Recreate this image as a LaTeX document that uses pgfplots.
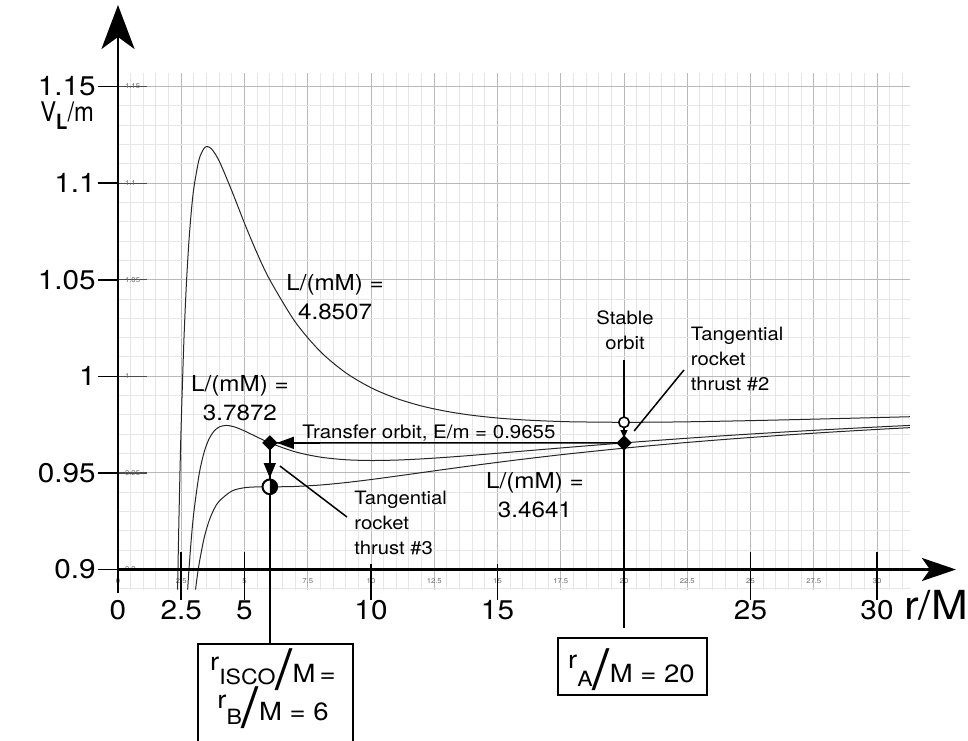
\documentclass[border=0pt]{standalone}
\usepackage{pgfplots}
\pgfplotsset{compat=1.18}
\usepackage{fontspec}
\setmainfont{TeX Gyre Heros}[FakeStretch=1.1]
\usetikzlibrary{arrows.meta}
\definecolor{minorgrid}{RGB}{230,230,230}
\definecolor{majorgrid}{RGB}{185,185,185}
\definecolor{tinytext}{RGB}{105,105,105}
\newcommand{\bigslash}{\raisebox{-3.5pt}{\fontsize{28pt}{28pt}\selectfont /}}
\begin{document}
\begin{tikzpicture}
\begin{axis}[
  x=12.65pt, y=966pt,
  xmin=0, xmax=31.3, ymin=0.8895, ymax=1.157,
  clip=false,
  axis line style={draw=none},
  /pgf/number format/assume math mode=true,
  xtick={0,2.5,5,7.5,10,12.5,15,17.5,20,22.5,25,27.5,30},
  xticklabels={0,2.5,5,7.5,10,12.5,15,17.5,20,22.5,25,27.5,30},
  ytick={0.9,0.95,1,1.05,1.1,1.15},
  yticklabels={0.9,0.95,1,1.05,1.1,1.15},
  minor xtick={0,0.5,...,31},
  minor ytick={0.89,0.90,0.91,0.92,0.93,0.94,0.95,0.96,0.97,0.98,0.99,1.00,1.01,1.02,1.03,1.04,1.05,1.06,1.07,1.08,1.09,1.10,1.11,1.12,1.13,1.14,1.15},
  grid=both,
  minor grid style={draw=minorgrid, line width=0.5pt},
  major grid style={draw=majorgrid, line width=0.5pt},
  xtick pos=left, ytick pos=left,
  tick align=inside,
  xtick style={draw=none},
  ytick style={draw=black!70, line width=0.6pt},
  major tick length=14.5pt,
  minor tick length=0pt,
  xticklabel style={font=\fontsize{3.5}{4}\selectfont, text=tinytext, anchor=center, yshift=4.5pt},
  yticklabel style={font=\fontsize{3.5}{4}\selectfont, text=tinytext, anchor=west},
]
% effective potential curves
\addplot[black!85, line width=0.5pt, smooth] coordinates {
(2.356,0.8896) (2.4,0.92059) (2.45,0.95061) (2.5,0.97618) (2.6,1.01686) (2.7,1.04692) (2.8,1.06920) (2.9,1.08564) (3.0,1.09763) (3.2,1.11205) (3.4,1.11798) (3.53,1.11887) (3.7,1.11765) (4.0,1.11143) (4.5,1.09594) (5,1.07921) (5.5,1.06365) (6,1.04995) (7,1.02824) (8,1.01279) (9,1.00185) (10,0.99410) (11,0.98858) (12,0.98463) (13,0.98182) (14,0.97982) (15,0.97842) (16,0.97746) (17,0.97683) (18,0.97644) (20,0.97619) (22,0.97636) (24,0.97679) (26,0.97735) (28,0.97798) (30,0.97864) (31.3,0.97908)};
\addplot[black!85, line width=0.5pt, smooth] coordinates {
(2.754,0.8896) (2.8,0.89912) (2.9,0.91631) (3.0,0.92981) (3.2,0.94881) (3.4,0.96055) (3.6,0.96763) (3.8,0.97169) (4.0,0.97377) (4.27,0.97459) (4.6,0.97383) (5,0.97172) (5.5,0.96855) (6,0.96555) (7,0.96092) (8,0.95817) (9,0.95682) (10,0.95642) (11,0.95664) (12,0.95725) (13,0.95810) (14,0.95910) (15,0.96017) (16,0.96127) (17,0.96236) (18,0.96345) (20,0.96554) (22,0.96749) (24,0.96928) (26,0.97091) (28,0.97239) (30,0.97376) (31.3,0.97458)};
\addplot[black!85, line width=0.5pt, smooth] coordinates {
(3.066,0.8896) (3.1,0.89327) (3.2,0.90247) (3.4,0.91608) (3.6,0.92519) (3.8,0.93131) (4.0,0.93541) (4.5,0.94062) (5,0.94234) (5.5,0.94276) (6,0.94281) (6.5,0.94284) (7,0.94299) (8,0.94373) (9,0.94499) (10,0.94657) (11,0.94833) (12,0.95015) (13,0.95197) (14,0.95374) (15,0.95545) (16,0.95709) (17,0.95864) (18,0.96011) (20,0.96281) (22,0.96521) (24,0.96735) (26,0.96926) (28,0.97097) (30,0.97251) (31.3,0.97343)};

% main axes
\draw[line width=1.3pt, -{Stealth[length=22pt,width=16.5pt,inset=6pt]}] (axis cs:0,0.8878) -- (axis cs:0,1.1922);
\draw[line width=1.3pt, -{Stealth[length=17pt,width=11.5pt,inset=4pt]}] (axis cs:0,0.9) -- (axis cs:33.12,0.9);

% big y ticks and labels
\foreach \v/\t in {0.9/0.9, 0.95/0.95, 1/1, 1.05/1.05, 1.1/1.1, 1.15/1.15}{
  \edef\tmp{\noexpand\draw[line width=0.8pt] (axis cs:-0.79,\v) -- (axis cs:0,\v);
  \noexpand\node[anchor=east, inner sep=0pt, font=\noexpand\fontsize{13.5}{16}\noexpand\selectfont] at (axis cs:-0.87,\v) {\t};}
  \tmp
}
% big x ticks and labels
\draw[line width=0.8pt] (axis cs:2.5,0.90906) -- (axis cs:2.5,0.88421);
\draw[line width=0.8pt] (axis cs:5,0.90906) -- (axis cs:5,0.88421);
\draw[line width=0.8pt] (axis cs:10,0.90285) -- (axis cs:10,0.88421);
\draw[line width=0.8pt] (axis cs:15,0.90285) -- (axis cs:15,0.88421);
\draw[line width=0.8pt] (axis cs:25,0.90906) -- (axis cs:25,0.88421);
\draw[line width=0.8pt] (axis cs:30,0.90906) -- (axis cs:30,0.88421);
\foreach \v in {0,2.5,5,10,15,25,30}{
  \edef\tmp{\noexpand\node[font=\noexpand\fontsize{13.5}{16}\noexpand\selectfont] at (axis cs:\v,0.87904) {\v};}
  \tmp
}
\node[font=\fontsize{20}{22}\selectfont] at (axis cs:32.33,0.88163) {r/M};
\node[anchor=base west, inner sep=0pt, font=\fontsize{13.5}{16}\selectfont] at (axis cs:-3.083,1.13214) {\scalebox{0.8}[1]{V\raisebox{-4pt}{\fontsize{10.5}{12}\selectfont\bfseries L}/m}};

% transfer orbit and thrust lines
\draw[line width=0.8pt] (axis cs:20,0.96554) -- (axis cs:6,0.96555);
\draw[line width=0.8pt, -{Triangle[length=8.5pt,width=6pt]}] (axis cs:8,0.96555) -- (axis cs:6.28,0.96555);
\draw[line width=0.7pt] (axis cs:6,0.96555) -- (axis cs:6,0.86144);
\draw[line width=0.7pt, -{Triangle[length=7.5pt,width=6pt]}] (axis cs:6,0.962) -- (axis cs:6,0.94736);
\draw[line width=0.6pt] (axis cs:20,1.00844) -- (axis cs:20,0.97893);
\draw[line width=0.6pt, -{Triangle[length=4pt,width=3.5pt]}] (axis cs:20,0.974) -- (axis cs:20,0.96806);
\draw[line width=0.6pt] (axis cs:20,0.96554) -- (axis cs:20,0.86972);
\draw[line width=0.75pt] (axis cs:22.37,1.00326) -- (axis cs:20.40,0.97169);
\draw[line width=0.75pt] (axis cs:9.05,0.92717) -- (axis cs:6.40,0.95357);

% markers
\addplot[only marks, mark=square*, mark size=2.5pt, mark options={rotate=45, fill=black, draw=black}] coordinates {(6,0.96555) (20,0.96554)};
\addplot[only marks, mark=*, mark size=2.6pt, mark options={fill=white, draw=black, line width=0.8pt}] coordinates {(20,0.97619)};
\addplot[only marks, mark=halfcircle*, mark size=3.65pt, mark options={rotate=90, fill=white, draw=black, mark color=black, line width=1pt}] coordinates {(6,0.94281)};

% annotations
\node[align=center, font=\fontsize{11}{14.5}\selectfont] at (axis cs:8.58,1.04104) {L/(mM) =\\4.8507};
\node[align=center, font=\fontsize{11}{14.5}\selectfont] at (axis cs:4.82,0.98877) {L/(mM) =\\3.7872};
\node[align=center, font=\fontsize{11}{14.5}\selectfont] at (axis cs:16.48,0.93856) {L/(mM) =\\3.4641};
\node[anchor=base west, inner sep=0pt, font=\fontsize{9.3}{11}\selectfont] at (axis cs:7.273,0.96806) {Transfer orbit, E/m = 0.9655};
\node[align=center, font=\fontsize{9.2}{12.5}\selectfont] at (axis cs:20.04,1.02371) {Stable\\orbit};
\node[align=left, anchor=north west, inner sep=0pt, font=\fontsize{9.2}{12.5}\selectfont] at (axis cs:22.63,1.02552) {Tangential\\rocket\\thrust \#2};
\node[align=left, anchor=north west, inner sep=0pt, font=\fontsize{9.2}{12.5}\selectfont] at (axis cs:9.33,0.94063) {Tangential\\rocket\\thrust \#3};

% boxes
\draw[line width=0.6pt] (axis cs:3.162,0.86144) rectangle (axis cs:9.289,0.80);
\draw[line width=0.6pt] (axis cs:17.39,0.86455) rectangle (axis cs:23.28,0.83504);
\node[anchor=base, inner sep=0pt, font=\fontsize{12.5}{14}\selectfont] at (axis cs:6.126,0.84177) {\raisebox{6pt}{r}\raisebox{-1pt}{\fontsize{10.5}{11}\selectfont ISCO}\bigslash M\,=};
\node[anchor=base, inner sep=0pt, font=\fontsize{12.5}{14}\selectfont] at (axis cs:6.126,0.8221) {\raisebox{6pt}{r}\raisebox{-2pt}{\fontsize{10.5}{11}\selectfont B}\bigslash M = 6};
\node[anchor=base, inner sep=0pt, font=\fontsize{12.5}{14}\selectfont] at (axis cs:20.296,0.84177) {\raisebox{7pt}{r}\raisebox{-2pt}{\fontsize{10.5}{11}\selectfont A}\bigslash M = 20};

\coordinate (BL) at (axis cs:-4.664,0.81175);
\coordinate (TR) at (axis cs:33.597,1.19477);
\end{axis}
\pgfresetboundingbox
\path[use as bounding box] (BL) rectangle (TR);
\end{tikzpicture}
\end{document}
